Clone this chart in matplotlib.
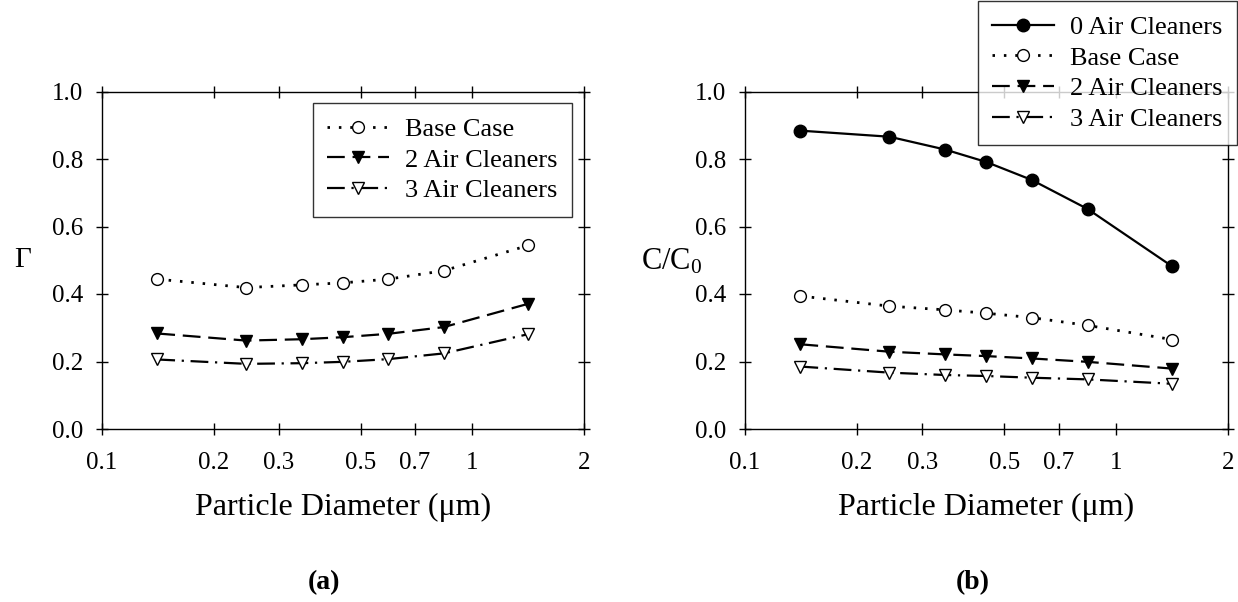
import numpy as np
import matplotlib.pyplot as plt

plt.rcParams['font.family'] = ['Liberation Serif', 'DejaVu Serif']
plt.rcParams['mathtext.fontset'] = 'custom'
plt.rcParams['mathtext.rm'] = 'Liberation Serif'
plt.rcParams['mathtext.it'] = 'Liberation Serif'

# particle diameter (um), geometric bin means
diameter = [0.141, 0.245, 0.346, 0.447, 0.592, 0.837, 1.414]

# (a) Gamma
gamma_base = [0.444, 0.419, 0.427, 0.433, 0.444, 0.469, 0.544]
gamma_2ac = [0.283, 0.262, 0.266, 0.272, 0.282, 0.302, 0.371]
gamma_3ac = [0.206, 0.193, 0.195, 0.199, 0.207, 0.224, 0.281]

# (b) C/C0
conc_0ac = [0.884, 0.866, 0.828, 0.791, 0.738, 0.652, 0.482]
conc_base = [0.394, 0.364, 0.353, 0.343, 0.330, 0.307, 0.265]
conc_2ac = [0.251, 0.229, 0.221, 0.216, 0.209, 0.199, 0.179]
conc_3ac = [0.185, 0.167, 0.160, 0.157, 0.152, 0.147, 0.134]

xticks = [0.1, 0.2, 0.3, 0.5, 0.7, 1, 2]
xticklabels = ['0.1', '0.2', '0.3', '0.5', '0.7', '1', '2']
yticks = [0.0, 0.2, 0.4, 0.6, 0.8, 1.0]

W, H = 1238, 602
fig = plt.figure(figsize=(W / 100, H / 100), dpi=100)
ax_a = fig.add_axes([102 / W, 1 - 429 / H, 482 / W, 337.5 / H])
ax_b = fig.add_axes([745 / W, 1 - 429 / H, 483 / W, 337.5 / H])

lw = 1.6
ms = 8.5
styles = {
    '0ac': dict(color='k', ls='-', lw=lw, marker='o', ms=ms + 0.5, mfc='k', mec='k'),
    'base': dict(color='k', ls=(0, (0.9, 3.2)), lw=lw + 0.4, marker='o', ms=ms,
                 mfc='white', mec='k', mew=1.0),
    '2ac': dict(color='k', ls=(0, (8, 3.5)), lw=lw, marker='v', ms=ms + 0.5,
                mfc='k', mec='k'),
    '3ac': dict(color='k', ls=(0, (8, 3, 1, 3)), lw=lw, marker='v', ms=ms + 0.5,
                mfc='white', mec='k', mew=1.0),
}

ax_a.plot(diameter, gamma_base, label='Base Case', **styles['base'])
ax_a.plot(diameter, gamma_2ac, label='2 Air Cleaners', **styles['2ac'])
ax_a.plot(diameter, gamma_3ac, label='3 Air Cleaners', **styles['3ac'])

ax_b.plot(diameter, conc_0ac, label='0 Air Cleaners', **styles['0ac'])
ax_b.plot(diameter, conc_base, label='Base Case', **styles['base'])
ax_b.plot(diameter, conc_2ac, label='2 Air Cleaners', **styles['2ac'])
ax_b.plot(diameter, conc_3ac, label='3 Air Cleaners', **styles['3ac'])

for ax in (ax_a, ax_b):
    ax.set_xscale('log')
    ax.set_xlim(0.1, 2)
    ax.set_ylim(0, 1)
    ax.set_xticks(xticks)
    ax.set_xticklabels(xticklabels)
    ax.xaxis.set_minor_locator(plt.NullLocator())
    ax.set_yticks(yticks)
    ax.set_yticklabels([f'{v:.1f}' for v in yticks])
    ax.tick_params(direction='inout', length=9, width=1, top=True, right=True,
                   labelsize=18)
    ax.tick_params(axis='x', pad=12)
    ax.tick_params(axis='y', pad=9)
    for s in ax.spines.values():
        s.set_linewidth(1)
    ax.set_xlabel('Particle Diameter (\u03bcm)', fontsize=23, labelpad=14)

ax_a.set_ylabel('\u0393', fontsize=21, rotation=0, va='center', ha='center')
ax_a.yaxis.set_label_coords(23 / W, 1 - 260 / H, transform=fig.transFigure)
ax_b.set_ylabel(r'$\mathregular{C/C_0}$', fontsize=22, rotation=0, va='center', ha='center')
ax_b.yaxis.set_label_coords(672 / W, 1 - 262 / H, transform=fig.transFigure)

leg_kw = dict(fontsize=19, frameon=True, fancybox=False, numpoints=1,
              handlelength=2.35, handletextpad=0.6, labelspacing=0.27,
              borderpad=0.55, borderaxespad=0)
leg_a = ax_a.legend(loc='upper right', bbox_to_anchor=(572 / W, 1 - 103 / H),
                    bbox_transform=fig.transFigure, **leg_kw)
leg_b = ax_b.legend(loc='upper right', bbox_to_anchor=(1237 / W, 1 - 1 / H),
                    bbox_transform=fig.transFigure, **leg_kw)
for leg in (leg_a, leg_b):
    leg.get_frame().set_edgecolor('k')
    leg.get_frame().set_linewidth(1)

fig.text(324 / W, 1 - 583 / H, '(a)', fontsize=20, fontweight='bold', ha='center', va='center')
fig.text(973 / W, 1 - 583 / H, '(b)', fontsize=20, fontweight='bold', ha='center', va='center')

fig.savefig('out.png', dpi=100)
